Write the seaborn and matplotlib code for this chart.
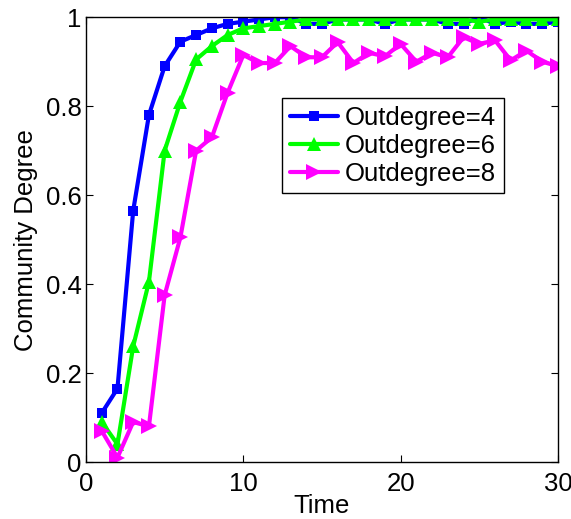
import numpy as np
import pandas as pd
import matplotlib
matplotlib.use("Agg")
import matplotlib.pyplot as plt
import seaborn as sns

# values
time = list(range(1, 31))
deg4 = [0.11, 0.165, 0.565, 0.78, 0.89, 0.945, 0.96, 0.975, 0.985, 0.99,
        0.995, 1.0, 1.0, 0.985, 0.985, 0.995, 0.995, 0.995, 0.985, 0.995,
        0.995, 0.995, 0.985, 0.985, 1.0, 0.985, 0.99, 0.985, 0.985, 0.99]
deg6 = [0.09, 0.04, 0.26, 0.405, 0.70, 0.81, 0.905, 0.935, 0.96, 0.975,
        0.98, 0.985, 0.99, 0.995, 0.995, 0.995, 0.995, 0.995, 0.995, 0.995,
        0.995, 0.995, 0.995, 0.995, 0.99, 0.995, 0.995, 0.995, 0.995, 0.995]
deg8 = [0.07, 0.01, 0.09, 0.08, 0.375, 0.505, 0.70, 0.73, 0.83, 0.915,
        0.897, 0.897, 0.935, 0.91, 0.91, 0.944, 0.897, 0.92, 0.912, 0.94,
        0.90, 0.92, 0.91, 0.955, 0.94, 0.948, 0.903, 0.925, 0.90, 0.89]
series_names = ["Outdegree=4", "Outdegree=6", "Outdegree=8"]

df = pd.DataFrame({
    "Time": time * 3,
    "Community Degree": deg4 + deg6 + deg8,
    "series": np.repeat(series_names, len(time)),
})

sns.set_style("ticks")
plt.rcParams["font.family"] = ["Liberation Sans", "DejaVu Sans"]
plt.rcParams["xtick.direction"] = "in"
plt.rcParams["ytick.direction"] = "in"
plt.rcParams["text.color"] = "black"
plt.rcParams["axes.labelcolor"] = "black"
plt.rcParams["xtick.color"] = "black"
plt.rcParams["ytick.color"] = "black"

fig = plt.figure(figsize=(5.71, 5.19), dpi=100)
ax = fig.add_axes([0.1506, 0.1098, 0.8265, 0.857])

palette = {"Outdegree=4": "#0000FF", "Outdegree=6": "#00FF00", "Outdegree=8": "#FF00FF"}
markers = {"Outdegree=4": "s", "Outdegree=6": "^", "Outdegree=8": ">"}
sns.lineplot(data=df, x="Time", y="Community Degree", hue="series", style="series",
             palette=palette, markers=markers, dashes=False, linewidth=3,
             markersize=9, markeredgewidth=0, ax=ax)
# per-series marker sizes
for line, ms in zip(ax.lines, [7, 10, 11]):
    line.set_markersize(ms)

ax.set_xlim(0, 30)
ax.set_ylim(0, 1)
ax.set_xticks([0, 10, 20, 30])
ax.set_yticks([0, 0.2, 0.4, 0.6, 0.8, 1])
ax.set_yticklabels(["0", "0.2", "0.4", "0.6", "0.8", "1"])
ax.tick_params(labelsize=18.5, length=5, width=0.8, top=True, right=True)
ax.tick_params(axis="x", pad=7)
ax.tick_params(axis="y", pad=3)
ax.set_xlabel("Time", fontsize=18.5, labelpad=-1)
ax.set_ylabel("Community Degree", fontsize=18.5, labelpad=6)
for s in ax.spines.values():
    s.set_linewidth(1.0)
    s.set_color("black")

leg = ax.legend(loc="upper left", bbox_to_anchor=(0.415, 0.818), fontsize=18.5,
                frameon=True, fancybox=False, edgecolor="black", framealpha=1,
                handlelength=1.9, handletextpad=0.25, borderpad=0.3, labelspacing=0.15,
                borderaxespad=0)
leg.get_frame().set_linewidth(1.0)
for h, ms in zip(leg.legend_handles, [7, 10, 11]):
    h.set_markersize(ms)

fig.savefig("out.png", dpi=100)
